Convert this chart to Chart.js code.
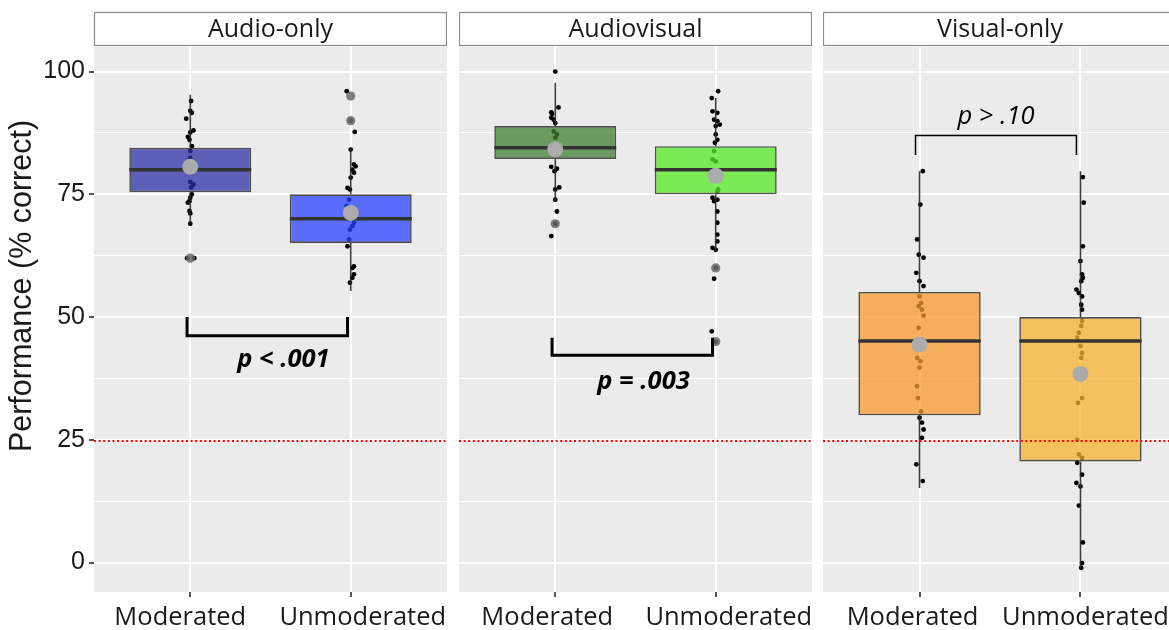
<!DOCTYPE html>
<html>
<head>
<meta charset="utf-8">
<script src="https://cdn.jsdelivr.net/npm/chart.js@4.4.0/dist/chart.umd.min.js"></script>
<style>
  html, body { margin: 0; padding: 0; background: #ffffff; overflow: hidden; width: 1169px; height: 630px; }
  canvas { position: absolute; top: 0; }
</style>
</head>
<body>
<canvas id="c0" width="447" height="630" style="left:0px"></canvas>
<canvas id="c1" width="353" height="630" style="left:459px"></canvas>
<canvas id="c2" width="354" height="630" style="left:823px"></canvas>
<script>
// ---------------- data ----------------
const panels = ['Audio-only', 'Audiovisual', 'Visual-only'];
const groups = ['Moderated', 'Unmoderated'];
const yTickValues = [0, 25, 50, 75, 100];
const yTitle = 'Performance (% correct)';
const chanceLevel = 24.75;

// individual scores (% correct) and the horizontal jitter
const audioModerated = [94, 92, 91.6, 90.4, 88, 87.6, 86.7, 86.1, 84.8, 83.8, 82.4, 81.5, 79.5, 77.5, 77, 76.4, 75, 74.3, 73.6, 73.3, 71.6, 71.1, 69, 62, 62];
const audioModeratedJitter = [0.005, 0, 0.01, -0.025, 0.02, 0, -0.015, -0.005, 0.01, 0, 0, -0.01, 0.01, 0, 0.02, 0.005, 0.01, 0, -0.005, -0.015, -0.005, 0, 0, -0.02, 0.025];
const audioUnmoderated = [96, 90, 87.7, 84.1, 81.1, 80.7, 80, 79.4, 78.4, 76.3, 76, 73.9, 72.6, 69.2, 68.5, 67.8, 65.8, 64.4, 60.3, 60, 58.7, 58, 57];
const audioUnmoderatedJitter = [-0.025, 0, 0.025, 0, 0.02, 0.03, 0.01, 0.02, 0, -0.02, -0.005, -0.01, -0.025, 0.02, 0.01, -0.005, -0.01, -0.02, 0.02, 0.01, 0.02, 0.01, -0.005];
const avModerated = [100, 92.7, 91.7, 91.4, 90.6, 90.2, 89.5, 87.8, 87.2, 86.5, 80.6, 80.2, 79.7, 76.4, 76, 73.9, 71.5, 69, 66.5];
const avModeratedJitter = [0, 0.02, -0.025, -0.02, -0.025, -0.01, 0, -0.01, 0.01, 0, -0.025, 0.01, -0.005, 0.025, 0, 0, 0.01, 0, -0.025];
const avUnmoderated = [96, 94.6, 91.9, 91.6, 90.2, 89.9, 89.2, 88.9, 87.2, 86.1, 85.5, 83.8, 82.1, 81.7, 76, 75.6, 74.3, 73.9, 73.6, 71.5, 69.2, 66.8, 65.4, 64.1, 63.7, 60, 57.8, 47.1, 45];
const avUnmoderatedJitter = [0.015, -0.025, -0.02, 0.01, -0.01, 0.01, 0.025, 0, 0, 0.01, -0.005, -0.01, -0.02, 0, 0.015, 0.01, -0.02, 0.01, -0.01, 0.01, 0.01, 0.01, 0.01, -0.02, 0, 0, -0.01, -0.025, 0];
const visualModerated = [79.7, 72.9, 65.8, 62.7, 62.1, 59, 57.3, 56.3, 54.2, 52.9, 52.2, 51.5, 50.3, 47.8, 41.7, 41, 39.7, 35.9, 33.5, 30.8, 29.5, 28.5, 27.1, 25.4, 20, 16.6];
const visualModeratedJitter = [0.02, 0.005, -0.015, -0.005, 0.025, -0.02, 0, 0.025, 0, 0.01, -0.005, 0.015, 0.025, -0.005, -0.015, 0.005, 0, -0.015, -0.01, 0.01, 0, 0.015, 0.025, 0.015, -0.02, 0.02];
const visualUnmoderated = [78.5, 73.3, 64.4, 61.4, 58.7, 58, 57.3, 55.6, 54.9, 54.2, 52.5, 51.5, 49.2, 48.2, 46.8, 45.8, 44.1, 42.7, 41.7, 33.5, 32.5, 25, 22, 21.3, 20.3, 17.9, 16.2, 15.5, 11.6, 4.1, -0.1, -1.1];
const visualUnmoderatedJitter = [0.015, 0.02, 0.015, 0, 0.01, 0.015, 0.005, -0.025, -0.01, 0.01, 0.005, 0.01, 0.01, 0.005, -0.01, -0.02, 0, 0.01, 0.005, 0.01, -0.015, -0.02, -0.01, 0.01, -0.02, 0.01, -0.025, 0, -0.01, 0.015, 0.01, 0.005];

// box statistics per panel: [Moderated, Unmoderated]
const boxQ1 = [[75.4, 65.1], [82.2, 75.0], [30.0, 20.6]];
const boxMedian = [[80.0, 70.0], [84.5, 80.0], [45.1, 45.1]];
const boxQ3 = [[84.5, 75.0], [88.9, 84.8], [55.1, 50.0]];
const whiskerLow = [[69.0, 55.3], [73.6, 63.4], [15.2, -1.1]];
const whiskerHigh = [[95.3, 84.5], [97.7, 94.6], [79.7, 79.7]];
const groupMeans = [[80.6, 71.2], [84.2, 78.8], [44.4, 38.4]];
const outlierValues = [[[62], [95, 90]], [[69], [60, 45]], [[], []]];

// significance annotations
const pLabels = ['p < .001', 'p = .003', 'p > .10'];
const bracketLeg = [50.0, 45.8, 83.0];
const bracketBar = [46.2, 42.2, 87.0];
const pLabelValue = [41.4, 36.9, 90.8];

// ---------------- styles / layout ----------------
const X_MIN = 0.4, X_MAX = 2.6, Y_MIN = -6, Y_MAX = 105;
const BOX_HALF = 0.38;
const BRACKET_SHIFT = [-0.02, -0.02, -0.025];
const P_LABEL_X = [1.58, 1.55, 1.475];
const P_BOLD = [true, true, false];
const BRACKET_WIDTH = [3, 3, 1.5];
const X_LABEL_SHIFT = [[-10, 12], [-8, 13], [-7, 5]];
const TEXT_FONT = '"Open Sans"';
const boxColors = [
  ['rgba(43,48,163,0.75)', 'rgba(42,66,255,0.75)'],
  ['rgba(63,127,50,0.75)', 'rgba(87,234,35,0.75)'],
  ['rgba(248,154,47,0.75)', 'rgba(248,178,47,0.75)']
];
const scoreSets = [[audioModerated, audioUnmoderated], [avModerated, avUnmoderated], [visualModerated, visualUnmoderated]];
const jitterSets = [[audioModeratedJitter, audioUnmoderatedJitter], [avModeratedJitter, avUnmoderatedJitter], [visualModeratedJitter, visualUnmoderatedJitter]];
const gridValues = [];
yTickValues.forEach((v, i) => { gridValues.push(v); if (i < yTickValues.length - 1) gridValues.push((v + yTickValues[i + 1]) / 2); });

const stripPlugin = {
  id: 'strip',
  beforeDraw(chart, args, opts) {
    const { ctx, chartArea: a } = chart;
    ctx.save();
    ctx.fillStyle = '#EBEBEB';
    ctx.fillRect(a.left, a.top, a.right - a.left, a.bottom - a.top);
    ctx.fillStyle = '#ffffff';
    ctx.fillRect(a.left, 12, a.right - a.left, 34);
    ctx.strokeStyle = '#8a8a8a';
    ctx.lineWidth = 1.2;
    ctx.strokeRect(a.left + 0.5, 12.5, a.right - a.left - 1, 33);
    ctx.fillStyle = '#1a1a1a';
    ctx.font = '25px ' + TEXT_FONT;
    ctx.textAlign = 'center';
    ctx.textBaseline = 'middle';
    ctx.fillText(opts.text, (a.left + a.right) / 2, 29.5);
    if (opts.yTitle) {
      ctx.save();
      ctx.translate(23, 286);
      ctx.rotate(-Math.PI / 2);
      ctx.font = '30.5px "Liberation Sans"';
      ctx.fillText(opts.yTitle, 0, 0);
      ctx.restore();
    }
    ctx.restore();
  },
  afterDraw(chart, args, opts) {
    const { ctx, scales } = chart;
    ctx.save();
    ctx.fillStyle = '#1a1a1a';
    ctx.font = '25.5px ' + TEXT_FONT;
    ctx.textAlign = 'center';
    ctx.textBaseline = 'middle';
    groups.forEach((g, i) => {
      ctx.fillText(g, scales.x.getPixelForValue(i + 1) + opts.labelShift[i], 618);
    });
    ctx.restore();
  }
};

const pLabelPlugin = {
  id: 'plabel',
  afterDatasetsDraw(chart, args, opts) {
    const { ctx, scales } = chart;
    ctx.save();
    ctx.fillStyle = '#000';
    ctx.font = (opts.bold ? 'bold italic ' : 'italic ') + '25.5px ' + TEXT_FONT;
    ctx.textAlign = 'center';
    ctx.textBaseline = 'middle';
    ctx.fillText(opts.text, scales.x.getPixelForValue(opts.x), scales.y.getPixelForValue(opts.y));
    ctx.restore();
  }
};

function buildDatasets(p) {
  const ds = [];
  const pts = [];
  groups.forEach((g, i) => {
    scoreSets[p][i].forEach((v, k) => pts.push({ x: i + 1 + (jitterSets[p][i][k] || 0), y: v }));
  });
  ds.push({ type: 'scatter', data: pts, pointRadius: 2.4, pointBackgroundColor: '#000', pointBorderWidth: 0, order: 9 });
  groups.forEach((g, i) => {
    const x = i + 1;
    ds.push({ type: 'line', data: [{ x, y: whiskerLow[p][i] }, { x, y: boxQ1[p][i] }, { x, y: null }, { x, y: boxQ3[p][i] }, { x, y: whiskerHigh[p][i] }],
      borderColor: 'rgba(40,40,40,0.9)', borderWidth: 1.6, pointRadius: 0, spanGaps: false, fill: false, order: 8 });
  });
  ds.push({ type: 'bar', data: groups.map((g, i) => ({ x: i + 1, y: [boxQ1[p][i], boxQ3[p][i]] })),
    backgroundColor: boxColors[p], borderColor: 'rgba(51,51,51,0.85)', borderWidth: 1.6, borderSkipped: false,
    barPercentage: BOX_HALF * 2, categoryPercentage: 1, grouped: false, order: 7 });
  groups.forEach((g, i) => {
    ds.push({ type: 'line', data: [{ x: i + 1 - BOX_HALF, y: boxMedian[p][i] }, { x: i + 1 + BOX_HALF, y: boxMedian[p][i] }],
      borderColor: '#333333', borderWidth: 3.5, pointRadius: 0, fill: false, order: 6 });
  });
  ds.push({ type: 'line', data: [{ x: X_MIN, y: chanceLevel }, { x: X_MAX, y: chanceLevel }],
    borderColor: '#ff0000', borderWidth: 2, borderDash: [2, 2.6], pointRadius: 0, fill: false, order: 5 });
  const outs = [];
  groups.forEach((g, i) => outlierValues[p][i].forEach(v => outs.push({ x: i + 1, y: v })));
  ds.push({ type: 'scatter', data: outs, pointRadius: 4.6, pointBackgroundColor: 'rgba(105,105,105,0.85)', pointBorderWidth: 0, order: 4 });
  ds.push({ type: 'scatter', data: groups.map((g, i) => ({ x: i + 1, y: groupMeans[p][i] })), pointRadius: 8, pointBackgroundColor: '#ABABAB', pointBorderWidth: 0, order: 3 });
  const s = BRACKET_SHIFT[p];
  ds.push({ type: 'line', data: [{ x: 1 + s, y: bracketLeg[p] }, { x: 1 + s, y: bracketBar[p] }, { x: 2 + s, y: bracketBar[p] }, { x: 2 + s, y: bracketLeg[p] }],
    borderColor: '#000', borderWidth: BRACKET_WIDTH[p], borderJoinStyle: 'miter', borderCapStyle: 'butt', pointRadius: 0, fill: false, order: 2 });
  return ds;
}

function makeChart(p) {
  const showY = p === 0;
  return new Chart(document.getElementById('c' + p), {
    type: 'scatter',
    data: { datasets: buildDatasets(p) },
    plugins: [stripPlugin, pLabelPlugin],
    options: {
      responsive: false,
      animation: false,
      events: [],
      layout: { autoPadding: false, padding: { top: 47, left: 0, right: 0, bottom: 0 } },
      plugins: {
        legend: { display: false },
        tooltip: { enabled: false },
        strip: { text: panels[p], yTitle: showY ? yTitle : null, labelShift: X_LABEL_SHIFT[p] },
        plabel: { text: pLabels[p], x: P_LABEL_X[p], y: pLabelValue[p], bold: P_BOLD[p] }
      },
      scales: {
        x: {
          type: 'linear', min: X_MIN, max: X_MAX, offset: false,
          afterBuildTicks: s => { s.ticks = groups.map((g, i) => ({ value: i + 1 })); },
          afterFit: s => { s.height = 38; },
          grid: { color: '#ffffff', lineWidth: 2, offset: false, drawTicks: true, tickLength: 5, tickColor: '#555555' },
          border: { display: false },
          ticks: { display: false }
        },
        y: {
          type: 'linear', min: Y_MIN, max: Y_MAX, beginAtZero: false,
          afterBuildTicks: s => { s.ticks = gridValues.map(v => ({ value: v })); },
          afterFit: s => { s.width = showY ? 94 : 0; },
          grid: { color: '#ffffff', drawTicks: showY, tickLength: 5,
            lineWidth: c => (c.tick && yTickValues.includes(c.tick.value)) ? 2 : 1,
            tickColor: c => (c.tick && yTickValues.includes(c.tick.value)) ? '#555555' : 'rgba(0,0,0,0)' },
          border: { display: false },
          ticks: { display: showY, padding: 4, color: '#1a1a1a', font: { family: 'Liberation Sans', size: 25 },
            callback: v => yTickValues.includes(v) ? String(v) : '' },
          title: { display: false }
        }
      }
    }
  });
}

panels.forEach((name, p) => makeChart(p));
</script>
</body>
</html>
